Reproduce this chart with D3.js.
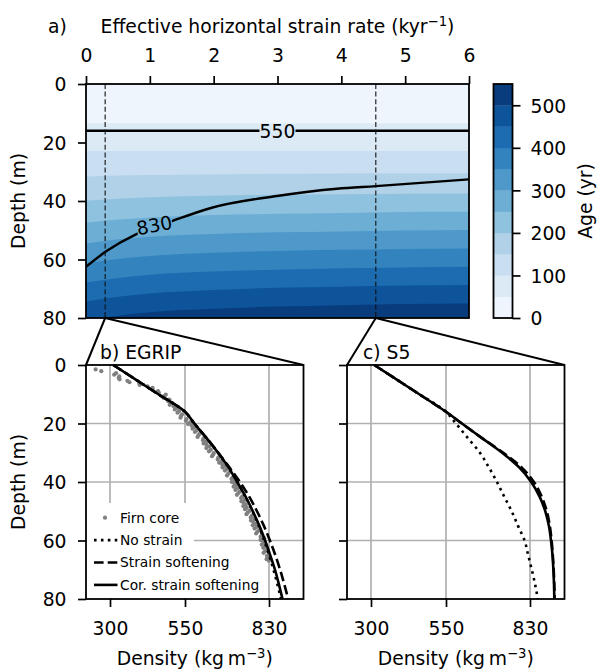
<!DOCTYPE html>
<html>
<head>
<meta charset="utf-8">
<script src="https://cdn.jsdelivr.net/npm/d3@7"></script>
<style>
  body { margin: 0; background: #fff; }
  svg { display: block; font-family: "DejaVu Sans", sans-serif; }
</style>
</head>
<body>
<div id="chart"></div>
<script>
// ---- panel a: age field against strain rate and depth ----
const strainRates = [0, 0.5, 1, 2, 3, 4, 5, 6];
const ageLevels = [0, 50, 100, 150, 200, 250, 300, 350, 400, 450, 500, 550];
// depth (m) of the 50, 100, ..., 500 yr isochrones at each strain rate
const isochroneDepth = [
  [13.4, 13.4, 13.4, 13.4, 13.4, 13.4, 13.4, 13.4],
  [22.9, 22.9, 22.9, 22.9, 22.9, 22.9, 22.9, 22.9],
  [31.7, 31.3, 31.1, 30.9, 30.7, 30.6, 30.5, 30.5],
  [39.9, 39.2, 38.7, 38.2, 37.9, 37.7, 37.5, 37.4],
  [47.4, 46.3, 45.6, 44.8, 44.4, 44.1, 43.8, 43.7],
  [54.5, 53.1, 52.2, 51.3, 50.7, 50.4, 50.1, 49.9],
  [61.3, 59.8, 58.8, 57.7, 57.1, 56.7, 56.4, 56.2],
  [67.9, 66.3, 65.2, 64.1, 63.5, 63.0, 62.7, 62.5],
  [74.4, 72.7, 71.6, 70.4, 69.7, 69.3, 68.9, 68.7],
  [81.0, 79.2, 78.0, 76.8, 76.1, 75.6, 75.2, 75.0]
];
const contour550Strain = [0, 6];
const contour550Depth = [16, 16];
const contour830Strain = [0, 0.31, 0.79, 1.32, 1.97, 2.99, 3.93, 4.54, 6];
const contour830Depth = [62.5, 57.3, 51.3, 47.1, 42.3, 38.3, 35.8, 34.9, 32.6];
// where the contour labels sit (strain rate, depth)
const contourLabels = [
  {text: "550", s: 3.0, d: 16, angle: 0},
  {text: "830", s: 1.07, d: 48.3, angle: -11}
];
const sites = ["EGRIP", "S5"];
const siteStrain = [0.3, 4.54];

const strainTicks = [0, 1, 2, 3, 4, 5, 6];
const depthTicks = [0, 20, 40, 60, 80];
const ageTicks = [0, 100, 200, 300, 400, 500];
const densityTicks = [300, 550, 830];
const gridDepths = [20, 40, 60];

// ---- panels b, c: density profiles ----
const profileDepth = [0, 5, 10, 16, 20, 25, 30, 35, 40, 45, 50, 55, 60, 65, 70, 75, 80];
const egripNoStrain   = [311, 386, 461, 550, 581, 622, 660, 695, 724, 751, 775, 796, 814, 830, 845, 858, 870];
const egripSoftening  = [311, 386, 461, 550, 581, 622, 661, 698, 733, 764, 790, 813, 833, 851, 867, 881, 894];
const egripCorrected  = [311, 386, 461, 550, 581, 622, 660, 695, 724, 752, 776, 798, 817, 834, 850, 863, 875];
const s5NoStrain      = [311, 386, 461, 550, 583, 623, 663, 693, 720, 744, 769, 790, 812, 824, 836, 847, 856];
const s5Softening     = [311, 386, 461, 550, 603, 670, 741, 802, 843, 869, 886, 896, 902, 906, 909, 911, 912];
const s5Corrected     = [311, 386, 461, 550, 603, 670, 737, 794, 834, 862, 881, 893, 900, 905, 908, 910, 911];

// EGRIP firn core samples
const firnDepth = [1.5, 2.1, 2.8, 3.3, 3.9, 4.4, 4.9, 5.4, 5.9, 6.3, 6.8, 7.3, 7.8, 8.4, 8.9, 9.5,
  10.1, 10.6, 11.2, 11.8, 12.4, 13.0, 13.6, 14.1, 14.7, 15.2, 15.8, 16.3, 16.9, 17.4, 18.0, 18.5,
  19.1, 19.6, 20.2, 20.7, 21.3, 21.8, 22.4, 22.9, 23.5, 24.0, 24.6, 25.1, 25.7, 26.2, 26.8, 27.3,
  27.9, 28.4, 29.0, 29.5, 30.1, 30.6, 31.2, 31.7, 32.3, 32.8, 33.4, 33.9, 34.5, 35.0, 35.6, 36.1,
  36.7, 37.2, 37.8, 38.3, 38.9, 39.4, 40.0, 40.5, 41.1, 41.6, 42.2, 42.7, 43.3, 43.8, 44.4, 44.9,
  45.5, 46.0, 46.6, 47.1, 47.7, 48.2, 48.8, 49.3, 49.9, 50.4, 51.0, 51.5, 52.1, 52.6, 53.2, 53.7,
  54.3, 54.8, 55.4, 55.9, 56.5, 57.0, 57.6, 58.1, 58.7, 59.2, 59.8, 60.3, 60.9, 61.4, 62.0, 62.5,
  63.1, 63.6, 64.2, 64.7, 65.3, 65.8, 66.4, 66.9];
const firnDensity = [252, 271, 320, 314, 331, 329, 332, 358, 365, 398, 399, 425, 442, 442, 460, 463,
  486, 481, 478, 498, 494, 507, 499, 512, 522, 516, 530, 525, 540, 537, 535, 555,
  553, 567, 560, 572, 582, 575, 589, 583, 599, 595, 592, 612, 610, 621, 612, 622,
  631, 621, 636, 630, 646, 644, 640, 661, 659, 673, 664, 674, 683, 675, 688, 683,
  698, 694, 690, 710, 705, 717, 706, 715, 722, 712, 724, 718, 733, 728, 723, 741,
  737, 749, 738, 746, 753, 744, 756, 750, 765, 759, 755, 773, 769, 781, 770, 778,
  785, 776, 789, 782, 797, 791, 787, 806, 802, 814, 802, 810, 817, 806, 818, 811,
  824, 817, 812, 829, 823, 828, 822, 830];

// ---------------------------------------------------------------
const FONT = 18.75;
const svg = d3.select("#chart").append("svg")
    .attr("width", 597)
    .attr("height", 671);

const A = {left: 86, right: 469, top: 84, bottom: 318};
const xA = d3.scaleLinear().domain([0, 6]).range([A.left, A.right]);
const yA = d3.scaleLinear().domain([0, 80]).range([A.top, A.bottom]);
const color = d3.scaleSequential(d3.interpolateBlues).domain([0, 550]);

const defs = svg.append("defs");
defs.append("clipPath").attr("id", "clipA").append("rect")
    .attr("x", A.left).attr("y", A.top)
    .attr("width", A.right - A.left).attr("height", A.bottom - A.top);

// filled age bands
let gA = svg.append("g").attr("clip-path", "url(#clipA)");
gA.append("rect")
    .attr("x", A.left).attr("y", yA(0))
    .attr("width", A.right - A.left).attr("height", yA(80) - yA(0))
    .attr("fill", color(ageLevels[0] + 25));
isochroneDepth.forEach((depths, k) => {
    let area = d3.area()
        .x((d, i) => xA(strainRates[i]))
        .y0((d) => yA(d))
        .y1(yA(80) + 5)
        .curve(d3.curveMonotoneX);
    gA.append("path")
        .attr("d", area(depths))
        .attr("fill", color(ageLevels[k + 1] + 25));
});

// mask out contour line under the labels
let mask = defs.append("mask").attr("id", "labelMask").attr("maskUnits", "userSpaceOnUse")
    .attr("x", 0).attr("y", 0).attr("width", 597).attr("height", 671);
mask.append("rect").attr("x", 0).attr("y", 0).attr("width", 597).attr("height", 671).attr("fill", "white");
contourLabels.forEach((l) => {
    let cx = xA(l.s), cy = yA(l.d);
    let w = 36, h = 16;
    mask.append("rect")
        .attr("x", cx - w / 2).attr("y", cy - h / 2)
        .attr("width", w).attr("height", h)
        .attr("fill", "black")
        .attr("transform", "rotate(" + l.angle + "," + cx + "," + cy + ")");
});

let contourLine = d3.line().curve(d3.curveMonotoneX);
let gC = gA.append("g").attr("mask", "url(#labelMask)");
gC.append("path")
    .attr("d", contourLine(contour550Strain.map((s, i) => [xA(s), yA(contour550Depth[i])])))
    .attr("fill", "none").attr("stroke", "black").attr("stroke-width", 2.4);
gC.append("path")
    .attr("d", contourLine(contour830Strain.map((s, i) => [xA(s), yA(contour830Depth[i])])))
    .attr("fill", "none").attr("stroke", "black").attr("stroke-width", 2.4);

contourLabels.forEach((l) => {
    let cx = xA(l.s), cy = yA(l.d);
    svg.append("text")
        .attr("x", cx).attr("y", cy)
        .attr("dy", "0.36em")
        .attr("text-anchor", "middle")
        .attr("font-size", FONT)
        .attr("transform", "rotate(" + l.angle + "," + cx + "," + cy + ")")
        .text(l.text);
});

// site lines
siteStrain.forEach((s) => {
    svg.append("line")
        .attr("x1", xA(s)).attr("x2", xA(s))
        .attr("y1", yA(0)).attr("y2", yA(80))
        .attr("stroke", "#111").attr("stroke-width", 1.1)
        .attr("stroke-dasharray", "5,2.6");
});

function styleAxis(g) {
    g.attr("font-family", null).attr("font-size", FONT);
    g.select(".domain").remove();
    g.selectAll(".tick line").attr("stroke-width", 1.7);
}

svg.append("g")
    .attr("transform", "translate(0," + A.top + ")")
    .call(d3.axisTop(xA).tickValues(strainTicks).tickFormat(d3.format("d")).tickSize(8).tickPadding(14.3))
    .call(styleAxis);

svg.append("g")
    .attr("transform", "translate(" + A.left + ",0)")
    .call(d3.axisLeft(yA).tickValues(depthTicks).tickSize(8).tickPadding(11.5))
    .call(styleAxis)
    .selectAll("text").attr("dy", "0.36em");

svg.append("rect")
    .attr("x", A.left).attr("y", A.top)
    .attr("width", A.right - A.left).attr("height", A.bottom - A.top)
    .attr("fill", "none").attr("stroke", "black").attr("stroke-width", 1.8);

// title
let title = svg.append("text")
    .attr("x", (A.left + A.right) / 2).attr("y", 33.3)
    .attr("text-anchor", "middle").attr("font-size", FONT);
title.append("tspan").text("Effective horizontal strain rate (kyr");
title.append("tspan").attr("font-size", 13.2).attr("dy", -7.5).text("\u22121");
title.append("tspan").attr("dy", 7.5).text(")");

svg.append("text").attr("x", 48).attr("y", 33.3).attr("font-size", FONT).text("a)");

// colour bar
const CB = {left: 493.5, right: 512.5, top: 84, bottom: 318};
const yCB = d3.scaleLinear().domain([0, 550]).range([CB.bottom, CB.top]);
svg.append("g").selectAll("rect")
    .data(ageLevels.slice(0, -1))
    .join("rect")
    .attr("x", CB.left)
    .attr("width", CB.right - CB.left)
    .attr("y", (d) => yCB(d + 50))
    .attr("height", (d) => yCB(d) - yCB(d + 50) + 0.3)
    .attr("fill", (d) => color(d + 25));
svg.append("rect")
    .attr("x", CB.left).attr("y", CB.top)
    .attr("width", CB.right - CB.left).attr("height", CB.bottom - CB.top)
    .attr("fill", "none").attr("stroke", "black").attr("stroke-width", 1.8);
svg.append("g")
    .attr("transform", "translate(" + CB.right + ",0)")
    .call(d3.axisRight(yCB).tickValues(ageTicks).tickSize(8).tickPadding(10))
    .call(styleAxis)
    .selectAll("text").attr("dy", "0.36em");
svg.append("text")
    .attr("transform", "translate(592,201) rotate(-90)")
    .attr("text-anchor", "middle").attr("font-size", FONT)
    .text("Age (yr)");

// ---- density panels ----
const yP = d3.scaleLinear().domain([0, 80]).range([365, 599]);
const panels = [
    {left: 86, right: 303.5, label: "b) EGRIP", labelX: 100,
     noStrain: egripNoStrain, soft: egripSoftening, cor: egripCorrected, firn: true, yLabels: true},
    {left: 347, right: 564.5, label: "c) S5", labelX: 363,
     noStrain: s5NoStrain, soft: s5Softening, cor: s5Corrected, firn: false, yLabels: false}
];
const DOT = "2.6,4.3";
const DASH = "9.6,4.1";

panels.forEach((p, idx) => {
    let x = d3.scaleLinear().domain([220, 945]).range([p.left, p.right]);
    let g = svg.append("g");

    // grid
    g.selectAll(".vgrid").data(densityTicks).join("line")
        .attr("x1", (d) => x(d)).attr("x2", (d) => x(d))
        .attr("y1", yP(0)).attr("y2", yP(80))
        .attr("stroke", "#b0b0b0").attr("stroke-width", 1.7);
    g.selectAll(".hgrid").data(gridDepths).join("line")
        .attr("x1", p.left).attr("x2", p.right)
        .attr("y1", (d) => yP(d)).attr("y2", (d) => yP(d))
        .attr("stroke", "#b0b0b0").attr("stroke-width", 1.7);

    if (p.firn) {
        g.selectAll(".firn").data(firnDepth).join("circle")
            .attr("cx", (d, i) => x(firnDensity[i]))
            .attr("cy", (d) => yP(d))
            .attr("r", 2.1)
            .attr("fill", "#808080");
    }

    let line = (vals) => d3.line()
        .x((d, i) => x(vals[i]))
        .y((d) => yP(d))
        .curve(d3.curveMonotoneY)(profileDepth);

    g.append("path").attr("d", line(p.noStrain))
        .attr("fill", "none").attr("stroke", "black").attr("stroke-width", 2.6)
        .attr("stroke-dasharray", DOT);
    g.append("path").attr("d", line(p.soft))
        .attr("fill", "none").attr("stroke", "black").attr("stroke-width", 2.6)
        .attr("stroke-dasharray", DASH);
    g.append("path").attr("d", line(p.cor))
        .attr("fill", "none").attr("stroke", "black").attr("stroke-width", 2.6);

    // axes
    svg.append("g")
        .attr("transform", "translate(0," + yP(80) + ")")
        .call(d3.axisBottom(x).tickValues(densityTicks).tickSize(8).tickPadding(14.5))
        .call(styleAxis)
        .selectAll("text").attr("dy", "0.71em");
    let ya = svg.append("g")
        .attr("transform", "translate(" + p.left + ",0)")
        .call(d3.axisLeft(yP).tickValues(depthTicks).tickSize(8).tickPadding(11.5))
        .call(styleAxis);
    ya.selectAll("text").attr("dy", "0.36em");
    if (!p.yLabels) ya.selectAll("text").remove();

    svg.append("rect")
        .attr("x", p.left).attr("y", yP(0))
        .attr("width", p.right - p.left).attr("height", yP(80) - yP(0))
        .attr("fill", "none").attr("stroke", "black").attr("stroke-width", 1.8);

    // zoom connectors from panel a
    let sx = xA(siteStrain[idx]);
    [p.left, p.right].forEach((ex) => {
        svg.append("line")
            .attr("x1", sx).attr("y1", yA(80))
            .attr("x2", ex).attr("y2", yP(0))
            .attr("stroke", "black").attr("stroke-width", 2);
    });

    svg.append("text").attr("x", p.labelX).attr("y", 359)
        .attr("font-size", FONT).text(p.label);

    let xl = svg.append("text")
        .attr("x", (p.left + p.right) / 2).attr("y", 665)
        .attr("text-anchor", "middle").attr("font-size", FONT);
    xl.append("tspan").text("Density (kg\u2009m");
    xl.append("tspan").attr("font-size", 13.2).attr("dy", -7.5).text("\u22123");
    xl.append("tspan").attr("dy", 7.5).text(")");
});

// y labels
[(A.top + A.bottom) / 2, (yP(0) + yP(80)) / 2].forEach((cy) => {
    svg.append("text")
        .attr("transform", "translate(24.5," + cy + ") rotate(-90)")
        .attr("text-anchor", "middle").attr("font-size", FONT)
        .text("Depth (m)");
});

// legend in panel b
const legendLabels = ["Firn core", "No strain", "Strain softening", "Cor. strain softening"];
const legendDash = [null, DOT, DASH, "none"];
const LG = svg.append("g");
LG.append("rect").attr("x", 87).attr("y", 503).attr("width", 107).attr("height", 95).attr("fill", "white");
legendLabels.forEach((lab, i) => {
    let cy = 517.7 + i * 22.4;
    if (i === 0) {
        LG.append("circle").attr("cx", 105).attr("cy", cy).attr("r", 2.1).attr("fill", "#808080");
    } else {
        LG.append("line")
            .attr("x1", 94).attr("x2", 117.5).attr("y1", cy).attr("y2", cy)
            .attr("stroke", "black").attr("stroke-width", 2.6)
            .attr("stroke-dasharray", legendDash[i]);
    }
    LG.append("text").attr("x", 120).attr("y", cy).attr("dy", "0.35em")
        .attr("font-size", 13.8).text(lab);
});
</script>
</body>
</html>
